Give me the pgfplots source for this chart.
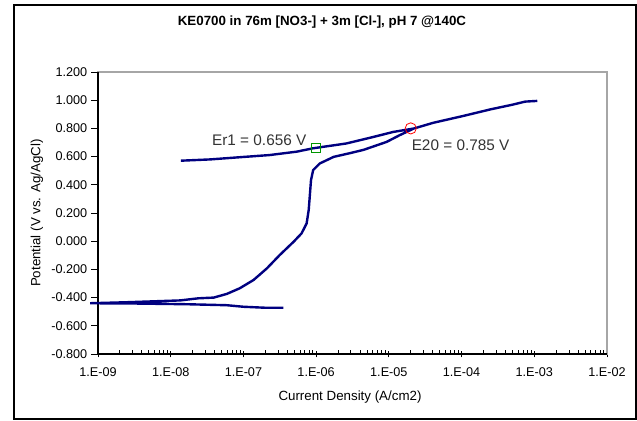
\documentclass[border=0pt]{standalone}
\usepackage{fontspec}
\setmainfont{Liberation Sans}
\usepackage{pgfplots}
\pgfplotsset{compat=1.18}
\definecolor{navyline}{RGB}{0,0,128}
\definecolor{frgreen}{RGB}{0,150,0}

\begin{document}
\begin{tikzpicture}[x=0.75pt,y=0.75pt]
% picture in screen pixels, y measured from the bottom
\path[use as bounding box] (0,0) rectangle (637,421);
\draw[black, line width=0.9pt] (14,2) rectangle (636,416);
\node[font=\fontsize{10}{12}\selectfont\bfseries] at (322,399) {KE0700 in 76m [NO3-] + 3m [Cl-], pH 7 @140C};
\node[font=\fontsize{10}{12}\selectfont] at (350,24) {Current Density (A/cm2)};
\node[font=\fontsize{10}{12}\selectfont, rotate=90] at (37,208) {Potential (V vs. Ag/AgCl)};

\begin{axis}[
    at={(73.5pt,50.25pt)}, anchor=south west,
    scale only axis, width=381.75pt, height=211.5pt,
    xmode=log,
    xmin=1e-9, xmax=1e-2,
    ymin=-0.8, ymax=1.2,
    xtick={1e-9,1e-8,1e-7,1e-6,1e-5,1e-4,1e-3,1e-2},
    xticklabels={1.E-09,1.E-08,1.E-07,1.E-06,1.E-05,1.E-04,1.E-03,1.E-02},
    minor xtick={2e-9,3e-9,4e-9,5e-9,6e-9,7e-9,8e-9,9e-9,
                 2e-8,3e-8,4e-8,5e-8,6e-8,7e-8,8e-8,9e-8,
                 2e-7,3e-7,4e-7,5e-7,6e-7,7e-7,8e-7,9e-7,
                 2e-6,3e-6,4e-6,5e-6,6e-6,7e-6,8e-6,9e-6,
                 2e-5,3e-5,4e-5,5e-5,6e-5,7e-5,8e-5,9e-5,
                 2e-4,3e-4,4e-4,5e-4,6e-4,7e-4,8e-4,9e-4,
                 2e-3,3e-3,4e-3,5e-3,6e-3,7e-3,8e-3,9e-3},
    ytick={-0.8,-0.6,-0.4,-0.2,0,0.2,0.4,0.6,0.8,1.0,1.2},
    yticklabels={-0.800,-0.600,-0.400,-0.200,0.000,0.200,0.400,0.600,0.800,1.000,1.200},
    xtick pos=bottom, ytick pos=left,
    tick align=center,
    major tick length=5pt, minor tick length=3pt,
    tick style={black, line width=0.6pt},
    minor tick style={yshift=1.5pt},
    ytick style={xshift=-2.5pt},
    ticklabel style={font=\fontsize{9.5}{11}\selectfont},
    xticklabel style={yshift=-4pt},
    yticklabel style={xshift=-2pt},
    axis line style={draw=gray!70, line width=0.8pt},
    clip=false,
]
\draw[black, line width=0.8pt] (rel axis cs:0,1) -- (rel axis cs:0,0) -- (rel axis cs:1,0);

% polarization scan: cathodic start, anodic sweep, reverse sweep
\addplot[navyline, line width=1.8pt] coordinates {
    (3.55e-7,-0.472) (2.0e-7,-0.472) (1.0e-7,-0.465) (5.9e-8,-0.454)
    (1.66e-8,-0.447) (3.2e-9,-0.442) (7.8e-10,-0.440)
    (2.45e-9,-0.433) (1.35e-8,-0.420) (2.4e-8,-0.405) (3.9e-8,-0.400)
    (5.9e-8,-0.374) (8.9e-8,-0.334) (1.38e-7,-0.275) (2.1e-7,-0.193)
    (3.16e-7,-0.098) (4.9e-7,-0.004) (6.3e-7,0.055) (7.4e-7,0.126)
    (7.9e-7,0.220) (8.1e-7,0.291) (8.5e-7,0.433) (9.1e-7,0.504)
    (1.12e-6,0.551) (1.74e-6,0.598) (2.95e-6,0.625) (4.5e-6,0.648)
    (9.3e-6,0.704) (1.41e-5,0.752) (2.2e-5,0.799) (4.1e-5,0.840)
    (1.05e-4,0.888) (2.5e-4,0.935) (5.0e-4,0.968) (7.5e-4,0.990) (1.1e-3,0.995)
    (7.5e-4,0.990) (5.0e-4,0.968) (2.5e-4,0.935) (1.05e-4,0.888) (4.1e-5,0.840)
    (2.2e-5,0.799) (1.15e-5,0.775) (6.2e-6,0.740) (2.6e-6,0.693)
    (9.1e-7,0.659) (5.4e-7,0.635) (2.3e-7,0.611) (8.1e-8,0.594)
    (3.5e-8,0.580) (1.38e-8,0.571)
};

% Er1 and E20 markers
\addplot[only marks, mark=square, mark size=3.5pt, mark options={draw=frgreen, line width=0.6pt}] coordinates {(1e-6,0.66)};
\addplot[only marks, mark=o, mark size=4.2pt, mark options={draw=red, line width=0.6pt}] coordinates {(2e-5,0.80)};

\node[anchor=west, font=\fontsize{11.5}{13}\selectfont, text=black!80] at (axis cs:3.2e-8,0.718) {Er1 = 0.656 V};
\node[anchor=west, font=\fontsize{11.5}{13}\selectfont, text=black!80] at (axis cs:1.78e-5,0.682) {E20 = 0.785 V};
\end{axis}
\end{tikzpicture}
\end{document}
